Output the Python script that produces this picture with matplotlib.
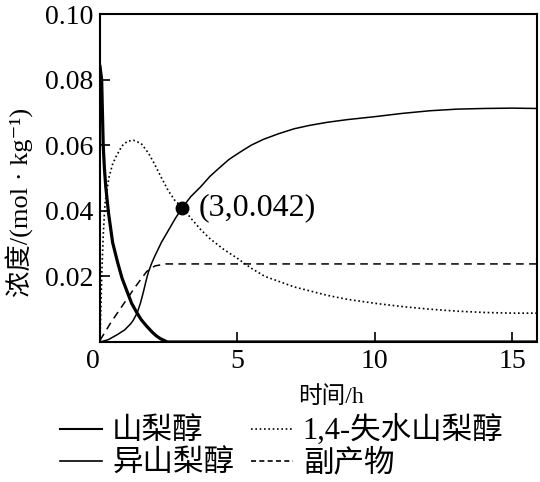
import matplotlib
matplotlib.use('Agg')
import matplotlib.pyplot as plt
from matplotlib.lines import Line2D

plt.rcParams['font.family'] = ['Liberation Serif', 'Noto Sans CJK SC', 'DejaVu Sans']

# 山梨醇 (粗实线)
t_sorbitol = [0, 0.03, 0.06, 0.117, 0.16, 0.21, 0.31, 0.46, 0.64, 0.8, 0.99, 1.15,
              1.35, 1.5, 1.7, 1.9, 2.06, 2.2, 2.35, 2.45, 15.9]
c_sorbitol = [0.084, 0.082, 0.080, 0.060, 0.053, 0.0473, 0.0393, 0.0303, 0.0243, 0.0195,
              0.0153, 0.0118, 0.0088, 0.0068, 0.0048, 0.0030, 0.0018, 0.0010, 0.0004,
              0.0, 0.0]

# 1,4-失水山梨醇 (点线)
t_anhydro = [0, 0.03, 0.07, 0.12, 0.18, 0.27, 0.33, 0.45, 0.57, 0.8, 1.0, 1.22, 1.5,
             1.77, 2.0, 2.24, 2.48, 2.72, 3.0, 3.3, 3.66, 4.0, 4.49, 5.0, 5.5, 6.0, 6.5,
             7.06, 8.28, 9, 10, 11, 12, 13, 14, 15, 15.9]
c_anhydro = [0, 0.010, 0.022, 0.033, 0.042, 0.0473, 0.0503, 0.054, 0.0563, 0.0598,
             0.0612, 0.0615, 0.0605, 0.0575, 0.054, 0.050, 0.0462, 0.0432, 0.041, 0.0378,
             0.0343, 0.0315, 0.0283, 0.0255, 0.0225, 0.020, 0.0185, 0.0168, 0.0142,
             0.013, 0.0118, 0.0108, 0.0100, 0.0094, 0.0090, 0.0088, 0.0088]

# 异山梨醇 (细实线)
t_iso = [0, 0.3, 0.64, 0.9, 1.11, 1.2, 1.35, 1.47, 1.58, 1.68, 1.76, 1.88, 2.0, 2.23,
         2.5, 2.75, 3.0, 3.3, 3.66, 4.0, 4.37, 4.7, 5.08, 5.5, 5.95, 6.5, 7.06, 7.6,
         8.28, 9, 10, 11, 12, 13, 14, 15, 15.9]
c_iso = [0, 0.0007, 0.0023, 0.0037, 0.0055, 0.0065, 0.0088, 0.0118, 0.0153, 0.0188,
         0.0213, 0.0240, 0.0263, 0.0303, 0.0342, 0.0378, 0.041, 0.0443, 0.0473, 0.0505,
         0.0533, 0.0557, 0.0578, 0.060, 0.0618, 0.0635, 0.065, 0.066, 0.067, 0.0678,
         0.0687, 0.0697, 0.0705, 0.071, 0.0712, 0.0713, 0.0712]

# 副产物 (虚线)
t_by = [0, 0.4, 0.85, 1.3, 1.7, 2.0, 2.4, 3.0, 15.9]
c_by = [0.0005, 0.006, 0.0115, 0.017, 0.0215, 0.0232, 0.0238, 0.0238, 0.0238]

point_t, point_c = 3, 0.041
point_label = '(3,0.042)'

xticks = [0, 5, 10, 15]
yticks = [0.02, 0.04, 0.06, 0.08, 0.10]

fig = plt.figure(figsize=(5.4, 4.82), dpi=100)
ax = fig.add_axes([100 / 540, 1 - 342 / 482, 437 / 540, 328 / 482])

ax.plot(t_sorbitol, c_sorbitol, color='black', lw=2.3)
ax.plot(t_anhydro, c_anhydro, color='black', lw=1.2, linestyle=(0, (1, 1.6)))
ax.plot(t_iso, c_iso, color='black', lw=1.1)
ax.plot(t_by, c_by, color='black', lw=1.1, linestyle=(0, (5, 3.5)))
ax.plot([point_t], [point_c], 'o', color='black', ms=9)
ax.annotate(point_label, (point_t, point_c), xytext=(12, 0), textcoords='offset points',
            va='center', ha='left', fontsize=23)

ax.set_xlim(0, 15.9)
ax.set_ylim(0, 0.1)
ax.set_xticks(xticks)
ax.set_xticklabels([str(v) for v in xticks])
ax.set_yticks(yticks)
ax.set_yticklabels([f'{v:.2f}' for v in yticks])
ax.tick_params(direction='in', length=7, width=1.2, labelsize=20, pad=5)
ax.get_xticklabels()[0].set_ha('right')
for s in ax.spines.values():
    s.set_linewidth(1.5)

ax.set_xlabel('时间/h', fontsize=17)
ax.xaxis.set_label_coords(0.529, -0.135)
ax.set_ylabel('浓度/(mol · kg⁻¹)', fontsize=19)
ax.yaxis.label.set_va('center')
ax.yaxis.set_label_coords(-0.183, 0.427)

handles = [Line2D([], [], color='black', lw=1.5),
           Line2D([], [], color='black', lw=1.2),
           Line2D([], [], color='black', lw=1.2, linestyle=(0, (1, 1.6))),
           Line2D([], [], color='black', lw=1.2, linestyle=(0, (3, 2)))]
labels = ['山梨醇', '异山梨醇', '1,4-失水山梨醇', '副产物']
fig.legend(handles, labels, ncol=2, loc='upper left',
           bbox_to_anchor=(60 / 540, 1 - 415 / 482), frameon=False, fontsize=22,
           handlelength=1.37, handletextpad=0.33, columnspacing=0.55,
           borderpad=0, borderaxespad=0, labelspacing=0.12)

fig.savefig('out.png', dpi=100)
